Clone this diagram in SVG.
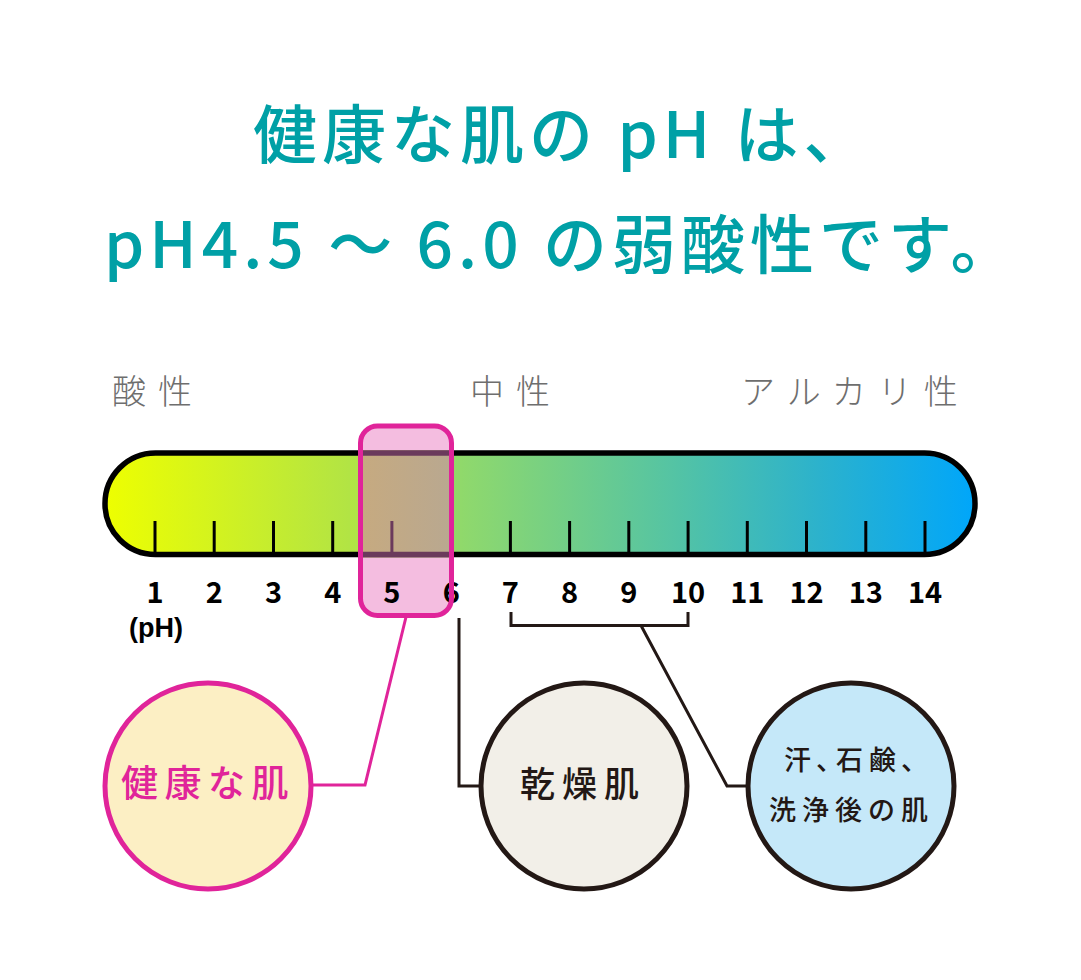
<svg xmlns="http://www.w3.org/2000/svg" width="1081" height="980" viewBox="0 0 1081 980">
<style>
.title{font-family:"Noto Sans CJK JP","Noto Sans CJK SC",sans-serif;font-size:64px;font-weight:500;fill:#00a0a6;letter-spacing:5px}
.lbl{font-family:"Noto Sans CJK JP",sans-serif;font-size:34px;font-weight:300;fill:#6e6e6e;letter-spacing:12px}
.num{font-family:"Noto Sans CJK JP",sans-serif;font-size:29px;font-weight:700;fill:#000;text-anchor:middle}
.unit{font-family:"Liberation Sans",Arial,sans-serif;font-size:27px;font-weight:700;fill:#000;text-anchor:middle}
.tick{stroke:#000;stroke-width:3}
.dark{fill:none;stroke:#231815;stroke-width:3}
.pinkline{fill:none;stroke:#e0249a;stroke-width:3}
.ctext{font-family:"Noto Sans CJK JP",sans-serif;font-weight:500}
</style>
<defs>
<linearGradient id="tubeGrad" gradientUnits="userSpaceOnUse" x1="105" y1="0" x2="975" y2="0">
<stop offset="0" stop-color="#eeff00"/>
<stop offset="0.28" stop-color="#b2e444"/>
<stop offset="0.42" stop-color="#8dd86e"/>
<stop offset="0.65" stop-color="#55c4a3"/>
<stop offset="0.82" stop-color="#2cb2cc"/>
<stop offset="1" stop-color="#00a6fa"/>
</linearGradient>
<linearGradient id="overGrad" gradientUnits="userSpaceOnUse" x1="362" y1="0" x2="450" y2="0">
<stop offset="0" stop-color="#c6aa80"/>
<stop offset="1" stop-color="#b9a890"/>
</linearGradient>
</defs>

<g id="title">
<text class="title" x="253" y="158">健康な肌の pH は、</text>
<text class="title" x="104" y="268">pH4.5 ～ 6.0 の弱酸性です。</text>
</g>

<g id="labels">
<text class="lbl" x="112" y="404">酸性</text>
<text class="lbl" x="470" y="404">中性</text>
<text class="lbl" x="741" y="404">アルカリ性</text>
</g>

<g id="healthy-range-fill">
<rect x="360.5" y="426" width="91" height="189.5" rx="17" fill="#f4bde0"/>
</g>

<g id="ph-scale">
<rect x="105" y="453" width="870" height="101.5" rx="50.5" fill="url(#tubeGrad)" stroke="#000" stroke-width="5.5"/>
<line class="tick" x1="155" y1="521" x2="155" y2="553"/>
<line class="tick" x1="214.2" y1="521" x2="214.2" y2="553"/>
<line class="tick" x1="273.5" y1="521" x2="273.5" y2="553"/>
<line class="tick" x1="332.7" y1="521" x2="332.7" y2="553"/>
<line class="tick" x1="510.4" y1="521" x2="510.4" y2="553"/>
<line class="tick" x1="569.6" y1="521" x2="569.6" y2="553"/>
<line class="tick" x1="628.8" y1="521" x2="628.8" y2="553"/>
<line class="tick" x1="688.1" y1="521" x2="688.1" y2="553"/>
<line class="tick" x1="747.3" y1="521" x2="747.3" y2="553"/>
<line class="tick" x1="806.5" y1="521" x2="806.5" y2="553"/>
<line class="tick" x1="865.8" y1="521" x2="865.8" y2="553"/>
<line class="tick" x1="925" y1="521" x2="925" y2="553"/>
<rect x="361" y="450" width="90" height="107.5" fill="url(#overGrad)"/>
<rect x="361" y="450.25" width="90" height="5.5" fill="#6b3a5c"/>
<rect x="361" y="551.75" width="90" height="5.5" fill="#6b3a5c"/>
<line x1="391.9" y1="521" x2="391.9" y2="553" stroke="#6b3a5c" stroke-width="3"/>
<text class="num" x="155" y="603">1</text>
<text class="num" x="214.2" y="603">2</text>
<text class="num" x="273.5" y="603">3</text>
<text class="num" x="332.7" y="603">4</text>
<text class="num" x="391.9" y="603">5</text>
<text class="num" x="451.2" y="603">6</text>
<text class="num" x="510.4" y="603">7</text>
<text class="num" x="569.6" y="603">8</text>
<text class="num" x="628.8" y="603">9</text>
<text class="num" x="688.1" y="603">10</text>
<text class="num" x="747.3" y="603">11</text>
<text class="num" x="806.5" y="603">12</text>
<text class="num" x="865.8" y="603">13</text>
<text class="num" x="925" y="603">14</text>
<text class="unit" x="156" y="637">(pH)</text>
</g>

<g id="healthy-range">
<rect x="360.5" y="426" width="91" height="189.5" rx="17" fill="none" stroke="#e0249a" stroke-width="5"/>
</g>

<g id="connectors">
<polyline class="pinkline" points="406,617 365,785 312,785"/>
<polyline class="dark" points="459,618 459,786 480,786"/>
<polyline class="dark" points="511,612 511,625.5 688,625.5 688,612"/>
<polyline class="dark" points="641,625.5 727,786 748,786"/>
</g>

<g id="node-healthy">
<circle cx="208" cy="786" r="103" fill="#fcefc4" stroke="#e0249a" stroke-width="5"/>
<text class="ctext" x="121" y="797" font-size="37" fill="#e0249a" letter-spacing="6.5">健康な肌</text>
</g>

<g id="node-dry">
<circle cx="584" cy="786" r="103" fill="#f2efe8" stroke="#231815" stroke-width="5"/>
<text class="ctext" x="520" y="797" font-size="35" fill="#231815" letter-spacing="7">乾燥肌</text>
</g>

<g id="node-after-wash">
<circle cx="851" cy="786" r="103" fill="#c5e8f9" stroke="#231815" stroke-width="5"/>
<text class="ctext" y="770" font-size="27" fill="#231815"><tspan x="784 816 836 869 901">汗、石鹸、</tspan></text>
<text class="ctext" x="769" y="820" font-size="27" fill="#231815" letter-spacing="6">洗浄後の肌</text>
</g>
</svg>
